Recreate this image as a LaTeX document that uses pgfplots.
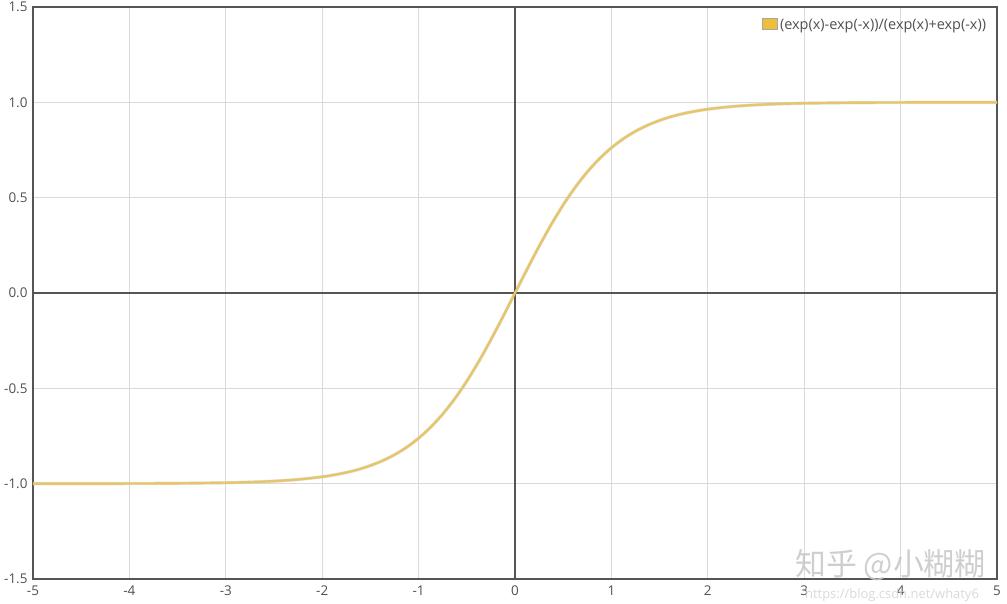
\documentclass[border=0pt]{standalone}
\usepackage{pgfplots}
\pgfplotsset{compat=1.18}
\usepackage{fontspec}
\setmainfont{Open Sans}
\newfontfamily\cjk{Noto Sans CJK SC}
\definecolor{curve}{RGB}{230,198,105}
\definecolor{legsq}{RGB}{238,190,60}
\definecolor{frame}{RGB}{85,85,85}
\definecolor{gridc}{RGB}{218,218,218}
\definecolor{txt}{RGB}{80,80,80}
\begin{document}
\begin{tikzpicture}[x=1bp,y=1bp]
\begin{axis}[
  scale only axis, width=964bp, height=572bp,
  xmin=-5, xmax=5, ymin=-1.5, ymax=1.5,
  xtick={-5,-4,...,5}, ytick={-1.5,-1,...,1.5},
  xticklabels={-5,-4,-3,-2,-1,0,1,2,3,4,5},
  yticklabels={-1.5,-1.0,-0.5,0.0,0.5,1.0,1.5},
  major tick length=0pt,
  grid=major, major grid style={gridc, line width=0.8bp},
  axis line style={frame, line width=2.6bp},
  xticklabel style={txt, font=\fontsize{13.5}{15}\selectfont, yshift=-3bp},
  yticklabel style={txt, font=\fontsize{13.5}{15}\selectfont, xshift=-2bp},
  legend style={draw=none, fill=none, at={(0.993,0.985)}, anchor=north east,
    font=\fontsize{14.5}{16}\selectfont, text=txt, inner sep=1bp,
    legend cell align=left, nodes={inner xsep=3bp}},
  legend image code/.code={\draw[draw=gray!70, fill=legsq, line width=0.5bp] (0bp,-5bp) rectangle (15bp,6bp);},
  clip=false,
]
\addplot[gray!40, line width=3.4bp, smooth, forget plot, opacity=0.5] coordinates {
(-5,-0.9999)(-4.5,-0.9998)(-4,-0.9993)(-3.5,-0.9982)(-3,-0.9951)(-2.75,-0.9919)(-2.5,-0.9866)(-2.25,-0.9780)(-2,-0.9640)(-1.875,-0.9539)(-1.75,-0.9414)(-1.625,-0.9256)(-1.5,-0.9051)(-1.375,-0.8799)(-1.25,-0.8483)(-1.125,-0.8094)(-1,-0.7616)(-0.875,-0.7039)(-0.75,-0.6351)(-0.625,-0.5546)(-0.5,-0.4621)(-0.375,-0.3584)(-0.25,-0.2449)(-0.125,-0.1244)(0,0)(0.125,0.1244)(0.25,0.2449)(0.375,0.3584)(0.5,0.4621)(0.625,0.5546)(0.75,0.6351)(0.875,0.7039)(1,0.7616)(1.125,0.8094)(1.25,0.8483)(1.375,0.8799)(1.5,0.9051)(1.625,0.9256)(1.75,0.9414)(1.875,0.9539)(2,0.9640)(2.25,0.9780)(2.5,0.9866)(2.75,0.9919)(3,0.9951)(3.5,0.9982)(4,0.9993)(4.5,0.9998)(5,0.9999)};
\draw[frame, line width=1.6bp] (axis cs:-5,0) -- (axis cs:5,0);
\draw[frame, line width=1.6bp] (axis cs:0,-1.5) -- (axis cs:0,1.5);
\addplot[curve, line width=2.4bp, smooth] coordinates {
(-5,-0.9999)(-4.5,-0.9998)(-4,-0.9993)(-3.5,-0.9982)(-3,-0.9951)(-2.75,-0.9919)(-2.5,-0.9866)(-2.25,-0.9780)(-2,-0.9640)(-1.875,-0.9539)(-1.75,-0.9414)(-1.625,-0.9256)(-1.5,-0.9051)(-1.375,-0.8799)(-1.25,-0.8483)(-1.125,-0.8094)(-1,-0.7616)(-0.875,-0.7039)(-0.75,-0.6351)(-0.625,-0.5546)(-0.5,-0.4621)(-0.375,-0.3584)(-0.25,-0.2449)(-0.125,-0.1244)(0,0)(0.125,0.1244)(0.25,0.2449)(0.375,0.3584)(0.5,0.4621)(0.625,0.5546)(0.75,0.6351)(0.875,0.7039)(1,0.7616)(1.125,0.8094)(1.25,0.8483)(1.375,0.8799)(1.5,0.9051)(1.625,0.9256)(1.75,0.9414)(1.875,0.9539)(2,0.9640)(2.25,0.9780)(2.5,0.9866)(2.75,0.9919)(3,0.9951)(3.5,0.9982)(4,0.9993)(4.5,0.9998)(5,0.9999)};
\addlegendentry{(exp(x)-exp(-x))/(exp(x)+exp(-x))}
\end{axis}
\node[anchor=base west, inner sep=0, text=gray!45, opacity=0.85, font=\cjk\fontsize{31}{33}\selectfont] at (762bp,4bp) {知乎 @小糊糊};
\node[anchor=base west, inner sep=0, text=gray!35, opacity=0.85, font=\fontsize{13}{15}\selectfont] at (772bp,-19bp) {https://blog.csdn.net/whaty6};
\pgfresetboundingbox
\path (-33bp,-25bp) rectangle (974bp,579bp);
\end{tikzpicture}
\end{document}
